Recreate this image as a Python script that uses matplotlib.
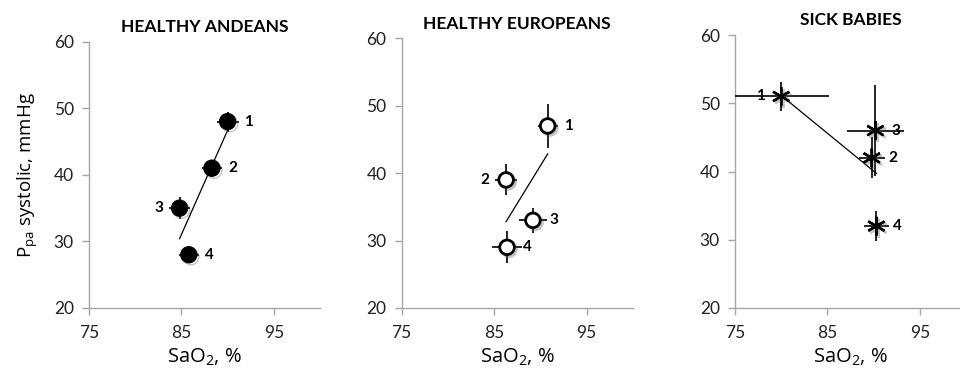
import numpy as np
import matplotlib
matplotlib.use("Agg")
import matplotlib.pyplot as plt
import matplotlib.patheffects as pe

plt.rcParams["mathtext.fontset"] = "custom"
plt.rcParams["mathtext.rm"] = "Open Sans"
plt.rcParams["mathtext.it"] = "Open Sans:italic"
plt.rcParams["mathtext.bf"] = "Open Sans:bold"

# Group titles
titles = ["HEALTHY ANDEANS", "HEALTHY EUROPEANS", "SICK BABIES"]

# Healthy Andeans
andean_sao2 = [90.0, 88.3, 84.8, 85.8]
andean_ppa = [48.0, 41.0, 35.0, 28.0]
andean_sao2_err = [1.2, 1.1, 1.1, 1.1]
andean_ppa_err = [1.5, 1.3, 1.6, 0.8]

# Healthy Europeans
europe_sao2 = [90.8, 86.3, 89.2, 86.4]
europe_ppa = [47.0, 39.0, 33.0, 29.0]
europe_sao2_err = [1.1, 1.2, 1.5, 1.6]
europe_ppa_err = [3.3, 2.3, 1.9, 2.4]

# Sick babies
babies_sao2 = [80.0, 89.8, 90.2, 90.3]
babies_ppa = [51.0, 42.0, 46.0, 32.0]
babies_sao2_err = [5.2, 1.4, 3.1, 1.35]
babies_ppa_err = [2.1, 3.0, 6.7, 2.2]

point_labels = ["1", "2", "3", "4"]
# side of each point the number sits on (+1 right, -1 left)
label_sides = [
    [1, 1, -1, 1],
    [1, -1, 1, 1],
    [-1, 1, 1, 1],
]

x_ticks = [75, 85, 95]
y_ticks = [20, 30, 40, 50, 60]

fig = plt.figure(figsize=(9.6, 3.73), dpi=100)

H = 373.0
W = 960.0
# (left px, top px) of each plot area; all share bottom and width
panel_px = [(89, 41.7), (401.7, 38.3), (735, 35)]
bottom_px = 308
width_px = 231

tick_family = ["Lato", "DejaVu Sans"]
label_font = ["Open Sans", "DejaVu Sans"]
bold_font = ["Lato", "DejaVu Sans"]

groups = [
    (andean_sao2, andean_ppa, andean_sao2_err, andean_ppa_err),
    (europe_sao2, europe_ppa, europe_sao2_err, europe_ppa_err),
    (babies_sao2, babies_ppa, babies_sao2_err, babies_ppa_err),
]

shadow = [pe.SimpleLineShadow(offset=(1.5, -1.5), shadow_color="#555555", alpha=0.35),
          pe.Normal()]

for i, (xs, ys, xe, ye) in enumerate(groups):
    left, top = panel_px[i]
    ax = fig.add_axes([left / W, 1 - bottom_px / H, width_px / W, (bottom_px - top) / H])
    ax.set_xlim(75, 100)
    ax.set_ylim(20, 60)
    ax.set_xticks(x_ticks)
    ax.set_yticks(y_ticks)
    for s in ("top", "right"):
        ax.spines[s].set_visible(False)
    for s in ("left", "bottom"):
        ax.spines[s].set_color("#a6a6a6")
        ax.spines[s].set_linewidth(1.0)
    ax.tick_params(direction="out", length=5, width=1.0, color="#a6a6a6")
    ax.tick_params(axis="y", pad=6)
    ax.tick_params(axis="x", pad=7)
    for lab in ax.get_xticklabels() + ax.get_yticklabels():
        lab.set_fontfamily(tick_family)
        lab.set_fontsize(12.5)
        lab.set_color("#222222")

    # least-squares trend line across the data range
    xa = np.array(xs)
    ya = np.array(ys)
    slope, intercept = np.polyfit(xa, ya, 1)
    xl = np.array([xa.min(), xa.max()])
    ax.plot(xl, slope * xl + intercept, color="black", lw=0.9, zorder=2)

    # error bars
    ax.errorbar(xs, ys, xerr=xe, yerr=ye, fmt="none", ecolor="black",
                elinewidth=1.2, capsize=0, zorder=3, clip_on=True)

    if i == 0:
        ax.plot(xs, ys, "o", ms=11.5, mfc="black", mec="black", mew=1,
                zorder=4, path_effects=shadow)
    elif i == 1:
        ax.plot(xs, ys, "o", ms=10.5, mfc="white", mec="black", mew=2.0,
                zorder=4, path_effects=shadow)
    else:
        ax.plot(xs, ys, linestyle="none", marker=(6, 2, 0), ms=13.5,
                mec="black", mew=1.7, zorder=4, path_effects=shadow)

    for j, txt in enumerate(point_labels):
        side = label_sides[i][j]
        ax.annotate(txt, (xs[j], ys[j]), xytext=(side * 15, 0),
                    textcoords="offset points", ha="center", va="center",
                    fontfamily=bold_font, fontweight="bold", fontsize=11,
                    color="black", zorder=5)

    ax.set_title(titles[i], fontfamily=bold_font, fontweight="bold",
                 fontsize=12.5, pad=7)
    ax.set_xlabel("SaO$_2$, %", fontfamily=label_font, fontsize=14.5, labelpad=4)
    if i == 0:
        ax.set_ylabel("P$_{\\mathregular{pa}}$ systolic, mmHg",
                      fontfamily=label_font, fontsize=13.5, labelpad=10)

fig.savefig("out.png", dpi=100)
